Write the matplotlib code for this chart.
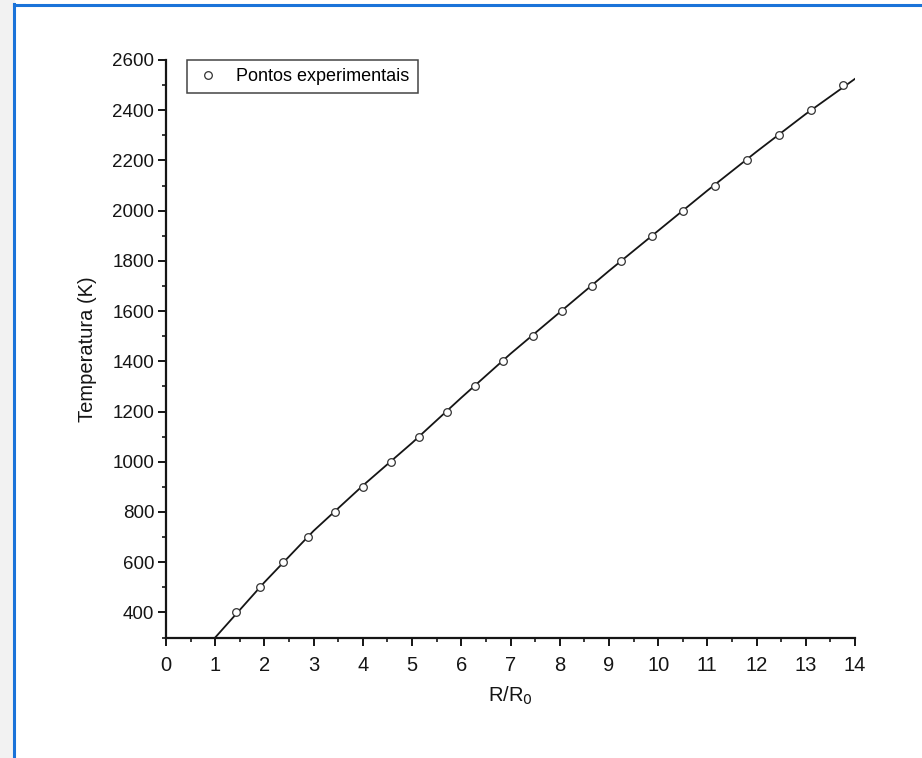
import numpy as np
import matplotlib
matplotlib.use("Agg")
import matplotlib.pyplot as plt
from matplotlib.ticker import MultipleLocator
from matplotlib.lines import Line2D

r_ratio = [1.43, 1.90, 2.38, 2.88, 3.43, 4.00, 4.58, 5.15, 5.70, 6.28, 6.85,
           7.45, 8.05, 8.65, 9.25, 9.87, 10.50, 11.15, 11.80, 12.45, 13.10, 13.75]
temperature = [400, 500, 600, 700, 800, 900, 1000, 1100, 1200, 1300, 1400,
               1500, 1600, 1700, 1800, 1900, 2000, 2100, 2200, 2300, 2400, 2500]

# fitted curve
fit_x = [1, 2, 3, 4, 5, 6, 7, 8, 9, 10, 11, 12, 13, 14]
fit_t = [300, 520, 725, 905, 1075, 1255, 1430, 1595, 1760, 1920, 2080, 2235, 2385, 2525]

plt.rcParams['font.family'] = ['Liberation Sans', 'DejaVu Sans']

fig = plt.figure(figsize=(9.22, 7.58), dpi=100)

# scanned page look: grey strip on the left and blue frame
fig.patches.append(plt.Rectangle((0, 0), 14 / 922, 1, transform=fig.transFigure,
                                 color="#f2f2f2", zorder=0))
fig.add_artist(Line2D([14 / 922, 14 / 922], [0, 1 - 4 / 758], transform=fig.transFigure,
                      color="#1a73d9", linewidth=2.2))
fig.add_artist(Line2D([14 / 922, 1], [1 - 4.5 / 758, 1 - 4.5 / 758], transform=fig.transFigure,
                      color="#1a73d9", linewidth=2.2))

ax = fig.add_axes([166 / 922, 1 - 637.5 / 758, 689 / 922, 577.5 / 758])

ink = '#151515'
ax.plot(fit_x, fit_t, color=ink, linewidth=1.3, zorder=2)
ax.plot(r_ratio, temperature, 'o', markerfacecolor='white', markeredgecolor='#333333',
        markersize=5.5, markeredgewidth=0.9, label='Pontos experimentais', zorder=3)

ax.set_xlim(0, 14)
ax.set_ylim(300, 2600)
ax.spines['top'].set_visible(False)
ax.spines['right'].set_visible(False)
for s in ('left', 'bottom'):
    ax.spines[s].set_linewidth(1.6)
    ax.spines[s].set_color(ink)

ax.xaxis.set_major_locator(MultipleLocator(1))
ax.xaxis.set_minor_locator(MultipleLocator(0.5))
ax.yaxis.set_minor_locator(MultipleLocator(100))
ax.set_yticks(np.arange(400, 2601, 200))
ax.tick_params(which='major', direction='out', length=5.5, width=1.4, labelsize=13.5,
               pad=3, color=ink, labelcolor=ink)
ax.tick_params(axis='x', which='major', labelsize=14.5, pad=8)
ax.tick_params(which='minor', direction='out', length=3, width=1.2, color=ink)

ax.set_xlabel(r'R/R$_0$', fontsize=14.5, color=ink, labelpad=7)
ax.set_ylabel('Temperatura (K)', fontsize=14.5, color=ink, labelpad=11)

leg = ax.legend(loc='upper left', bbox_to_anchor=(0.03, 1.0), borderaxespad=0,
                fancybox=False, fontsize=13, handletextpad=0.8, handlelength=1.5,
                borderpad=0.45)
leg.get_frame().set_edgecolor(ink)
leg.get_frame().set_linewidth(1.1)

fig.savefig("out.png", dpi=100)
